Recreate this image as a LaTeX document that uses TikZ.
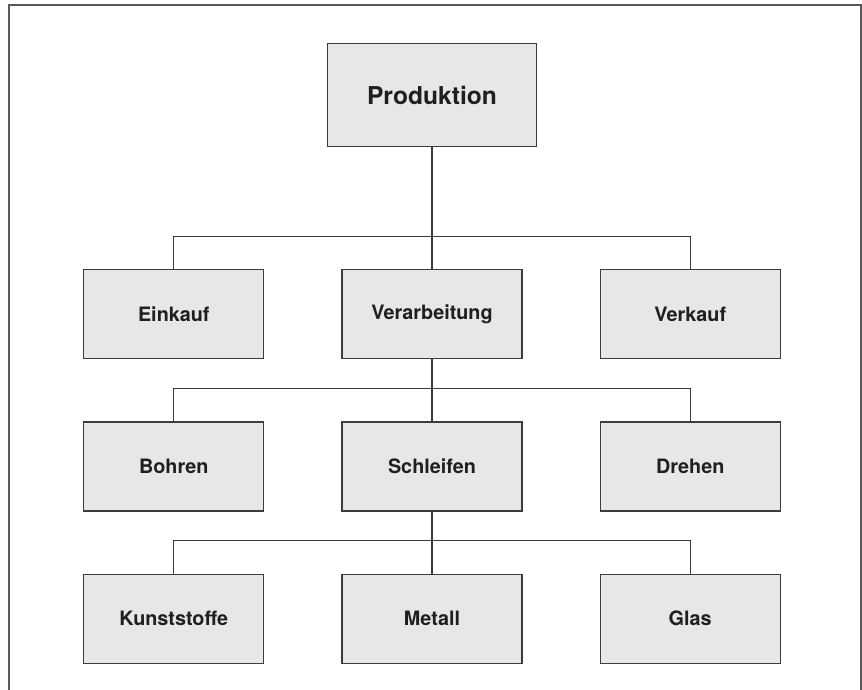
\documentclass[tikz,border=0pt]{standalone}
\usepackage{fontspec}
\setmainfont{TeX Gyre Heros}
\usepackage{tikz}
\usetikzlibrary{%
  positioning%
}
\definecolor{boxfill}{HTML}{E6E7E8}
\definecolor{linegray}{HTML}{3C3C3C}

\begin{document}
\begin{tikzpicture}[
    x=1pt, y=1pt,
    unit/.style={draw=linegray, fill=boxfill, line width=1.2pt,
    minimum width=180pt, minimum height=89pt, inner sep=0pt,
    text=black!88, font=\fontsize{19.8}{23}\selectfont\bfseries},
    link/.style={draw=linegray, line width=1.1pt},
    node distance=62pt and 77pt
]
    \useasboundingbox (0,0) rectangle (862,-690);
    \draw[linegray!85, line width=1.6pt] (9,-690) |- (861,-5) -- (861,-690);
    \node[unit, minimum width=209pt, minimum height=103pt,
      font=\fontsize{24.6}{28}\selectfont\bfseries] (prod) at (432,-95) {Produktion};
    \node[unit, below=122pt of prod] (verarb) {Verarbeitung};
    \node[unit, left=of verarb] (eink) {Einkauf};
    \node[unit, right=of verarb] (verk) {Verkauf};
    \node[unit, below=of verarb] (schl) {Schleifen};
    \node[unit, left=of schl] (bohr) {Bohren};
    \node[unit, right=of schl] (dreh) {Drehen};
    \node[unit, below=of schl] (metall) {Metall};
    \node[unit, left=of metall] (kunst) {Kunststoffe};
    \node[unit, right=of metall] (glas) {Glas};
    \path[link] (prod) -- (verarb);
    \path[link] (eink.north) -- ++(0,33) -| (verk.north);
    \path[link] (verarb) -- (schl);
    \path[link] (bohr.north) -- ++(0,33) -| (dreh.north);
    \path[link] (schl) -- (metall);
    \path[link] (kunst.north) -- ++(0,33) -| (glas.north);
\end{tikzpicture}
\end{document}
